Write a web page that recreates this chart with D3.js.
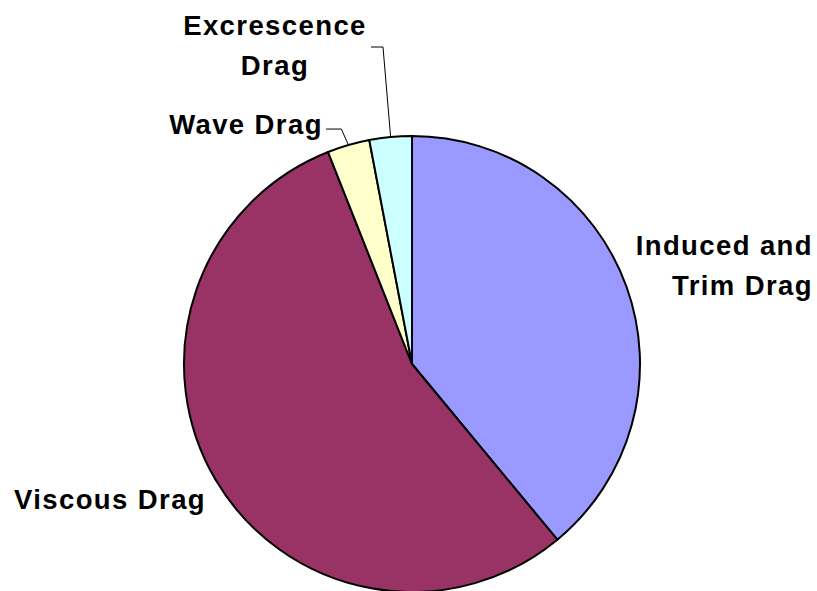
<!DOCTYPE html>
<html lang="en">
<head>
    <meta charset="UTF-8">
    <title>Drag breakdown</title>
    <script src="https://d3js.org/d3.v7.min.js"></script>
    <style>
        body { margin: 0; background: #fff; }
        text { font-family: "Liberation Sans", Arial, sans-serif; font-weight: bold; fill: #000; }
    </style>
</head>
<body>
    <div id="graph"></div>
    <script>
        // slices, clockwise from 12 o'clock
        const categories = ["Induced and Trim Drag", "Viscous Drag", "Wave Drag", "Excrescence Drag"];
        const values = [39, 55, 3, 3];
        const colors = ["#9999ff", "#993366", "#ffffcc", "#ccffff"];

        const width = 817, height = 591;
        const cx = 412, cy = 364, radius = 228;

        const svg = d3.select("#graph")
            .append("svg")
            .attr("width", width)
            .attr("height", height);

        const g = svg.append("g")
            .attr("transform", `translate(${cx},${cy})`);

        const pie = d3.pie().sort(null).value(d => d);
        const arcs = pie(values);
        const arc = d3.arc().innerRadius(0).outerRadius(radius);

        g.selectAll("path")
            .data(arcs)
            .join("path")
            .attr("d", arc)
            .attr("fill", (d, i) => colors[i])
            .attr("stroke", "#000")
            .attr("stroke-width", 2)
            .attr("stroke-linejoin", "round");

        // point on the rim at the middle of a slice
        function rim(d) {
            const a = (d.startAngle + d.endAngle) / 2;
            return [cx + radius * Math.sin(a), cy - radius * Math.cos(a)];
        }

        // labels: lines of text, anchor and position
        const labels = [
            { lines: ["Induced and", "Trim Drag"], x: 813, y: 255, anchor: "end" },
            { lines: ["Viscous Drag"], x: 110, y: 509, anchor: "middle" },
            { lines: ["Wave Drag"], x: 246, y: 134, anchor: "middle" },
            { lines: ["Excrescence", "Drag"], x: 275, y: 35, anchor: "middle" }
        ];

        labels.forEach(l => {
            const t = svg.append("text")
                .attr("text-anchor", l.anchor)
                .attr("font-size", 27.5)
                .attr("letter-spacing", 1.4);
            l.lines.forEach((s, k) => {
                t.append("tspan")
                    .attr("x", l.x)
                    .attr("y", l.y + k * 40)
                    .text(s);
            });
        });

        // leader lines for the two small slices
        const line = d3.line();
        const pw = rim(arcs[2]);
        svg.append("path")
            .attr("d", line([pw, [pw[0] - 7, pw[1] - 16], [326, pw[1] - 16]]))
            .attr("fill", "none").attr("stroke", "#000").attr("stroke-width", 1);

        const pe = rim(arcs[3]);
        svg.append("path")
            .attr("d", line([[pe[0], pe[1] - 1], [383, 47], [371, 47]]))
            .attr("fill", "none").attr("stroke", "#000").attr("stroke-width", 1);
    </script>
</body>
</html>
